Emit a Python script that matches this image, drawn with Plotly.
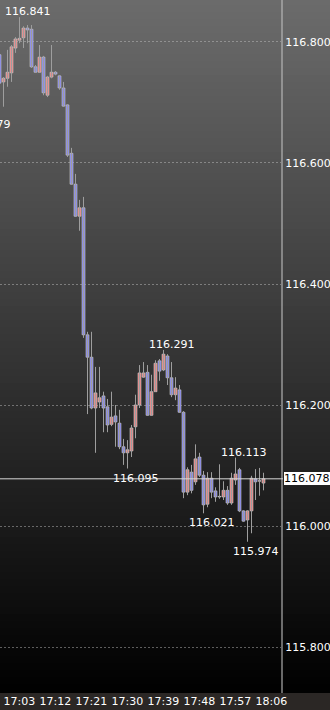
import plotly.graph_objects as go

# ---------------- data ----------------
candle_idx = list(range(0, 67))  # 1-minute candles, index 1 == 17:03
opens = [116.779, 116.734, 116.740, 116.749, 116.790, 116.803, 116.807, 116.823, 116.821, 116.759,
         116.750, 116.775, 116.712, 116.742, 116.750, 116.744, 116.724, 116.696, 116.616, 116.565,
         116.512, 116.526, 116.316, 116.279, 116.195, 116.205, 116.215, 116.197, 116.168, 116.182,
         116.170, 116.131, 116.121, 116.124, 116.164, 116.200, 116.246, 116.254, 116.183, 116.222,
         116.273, 116.258, 116.281, 116.245, 116.217, 116.225, 116.188, 116.056, 116.089, 116.073,
         116.114, 116.084, 116.036, 116.079, 116.058, 116.048, 116.048, 116.059, 116.038, 116.076,
         116.093, 116.025, 116.010, 116.025, 116.078, 116.074, 116.071]
highs = [116.787, 116.742, 116.787, 116.795, 116.808, 116.841, 116.826, 116.828, 116.828, 116.762,
         116.795, 116.777, 116.744, 116.795, 116.752, 116.745, 116.734, 116.697, 116.625, 116.582,
         116.539, 116.544, 116.321, 116.321, 116.263, 116.263, 116.222, 116.210, 116.222, 116.200,
         116.192, 116.144, 116.142, 116.167, 116.217, 116.266, 116.271, 116.266, 116.250, 116.274,
         116.276, 116.291, 116.284, 116.271, 116.246, 116.233, 116.190, 116.097, 116.101, 116.135,
         116.121, 116.091, 116.089, 116.089, 116.064, 116.102, 116.074, 116.066, 116.088, 116.113,
         116.096, 116.026, 116.026, 116.083, 116.094, 116.096, 116.088]
lows = [116.704, 116.693, 116.726, 116.734, 116.782, 116.798, 116.790, 116.798, 116.757, 116.749,
        116.749, 116.712, 116.709, 116.740, 116.745, 116.721, 116.693, 116.610, 116.564, 116.511,
        116.488, 116.311, 116.185, 116.193, 116.121, 116.195, 116.155, 116.155, 116.165, 116.131,
        116.127, 116.101, 116.095, 116.114, 116.145, 116.195, 116.245, 116.182, 116.182, 116.222,
        116.240, 116.256, 116.233, 116.213, 116.208, 116.187, 116.046, 116.051, 116.054, 116.068,
        116.081, 116.021, 116.031, 116.046, 116.040, 116.045, 116.043, 116.035, 116.035, 116.068,
        116.023, 116.007, 115.974, 115.988, 116.043, 116.050, 116.059]
closes = [116.732, 116.740, 116.750, 116.792, 116.805, 116.806, 116.823, 116.820, 116.759, 116.750,
          116.775, 116.716, 116.742, 116.750, 116.747, 116.724, 116.694, 116.613, 116.565, 116.512,
          116.526, 116.316, 116.279, 116.195, 116.220, 116.212, 116.195, 116.167, 116.180, 116.172,
          116.131, 116.121, 116.126, 116.162, 116.200, 116.253, 116.253, 116.183, 116.222, 116.269,
          116.256, 116.284, 116.245, 116.217, 116.228, 116.188, 116.056, 116.093, 116.059, 116.111,
          116.084, 116.035, 116.079, 116.056, 116.048, 116.048, 116.059, 116.038, 116.079, 116.086,
          116.025, 116.008, 116.025, 116.079, 116.073, 116.075, 116.078]

time_idx = [1, 10, 19, 28, 37, 46, 55, 64]
time_labels = ["17:03", "17:12", "17:21", "17:30", "17:39", "17:48", "17:57", "18:06"]

price_ticks = [115.8, 116.0, 116.2, 116.4, 116.6, 116.8]

# swing labels: (candle index, price, side)
swing_idx = [-5, 5, 32, 41, 51, 59, 62]
swing_price = [116.679, 116.841, 116.095, 116.291, 116.021, 116.113, 115.974]
swing_side = ["low", "high", "low", "high", "low", "high", "low"]

last_price = closes[-1]

UP_COLOR = "#ff7272"
DOWN_COLOR = "#7272ff"
WICK_COLOR = "#9e9e9e"
EDGE_COLOR = "#c8c8c8"

# ---------------- layout geometry ----------------
W, H = 330, 710
ML, MR, MT, MB = 0, 49, 0, 17
PW, PH = W - ML - MR, H - MT - MB
x_range = [0.125, 70.375]
y_range = [115.7240, 116.8694]
px_per_unit = PW / (x_range[1] - x_range[0])
unit_per_px = (y_range[1] - y_range[0]) / PH

fig = go.Figure()

# wicks
wx, wy = [], []
for i, h, l in zip(candle_idx, highs, lows):
    wx += [i, i, None]
    wy += [l, h, None]
fig.add_trace(go.Scatter(x=wx, y=wy, mode="lines", line=dict(color=WICK_COLOR, width=1),
                         hoverinfo="skip", showlegend=False))

# bodies
base = [min(o, c) for o, c in zip(opens, closes)]
size = [max(abs(c - o), 0.6 * unit_per_px) for o, c in zip(opens, closes)]
colors = [UP_COLOR if c > o else (DOWN_COLOR if c < o else "#e0e0e0")
          for o, c in zip(opens, closes)]
fig.add_trace(go.Bar(x=candle_idx, y=size, base=base, width=0.72,
                     marker=dict(color=colors, line=dict(color=EDGE_COLOR, width=0.7)),
                     hoverinfo="skip", showlegend=False))

shapes = []
# vertical gradient background (grey at top to black at bottom)
N = 99
x_right = W / PW
for k in range(N):
    v = round(108 * (1 - (k + 0.5) / N))
    shapes.append(dict(type="rect", xref="paper", yref="paper",
                       x0=0, x1=x_right, y0=1 - (k + 1) / N, y1=1 - k / N + 0.002,
                       fillcolor=f"rgb({v},{v},{v})", line=dict(width=0), layer="below"))
# bottom time strip
shapes.append(dict(type="rect", xref="paper", yref="paper", x0=0, x1=x_right,
                   y0=-MB / PH, y1=0, fillcolor="#2b2725", line=dict(width=0), layer="below"))
# current price line
shapes.append(dict(type="line", xref="paper", yref="y", x0=0, x1=1 + 2 / PW,
                   y0=last_price, y1=last_price, line=dict(color="#d8d8d8", width=1)))

annotations = []
for i, p, side in zip(swing_idx, swing_price, swing_side):
    xa = max(i, x_range[0])
    shift = 8 + (i - xa) * px_per_unit
    annotations.append(dict(
        x=xa, y=p, xref="x", yref="y", text=f"{p:.3f}", showarrow=False,
        xanchor="center", yanchor="bottom" if side == "high" else "top",
        xshift=shift, yshift=-3 if side == "high" else -1,
        font=dict(family="DejaVu Sans", size=11, color="#ffffff")))
annotations.append(dict(
    x=1 + 2 / PW, y=last_price, xref="paper", yref="y", text=f"{last_price:.3f}",
    showarrow=False, xanchor="left", yanchor="middle",
    bgcolor="#ffffff", bordercolor="#222222", borderwidth=1, borderpad=0,
    font=dict(family="DejaVu Sans", size=11, color="#000000")))

fig.update_layout(
    width=W, height=H, margin=dict(l=ML, r=MR, t=MT, b=MB, autoexpand=False),
    paper_bgcolor="#000000", plot_bgcolor="rgba(0,0,0,0)",
    font=dict(family="DejaVu Sans", size=11, color="#ffffff"),
    shapes=shapes, annotations=annotations, showlegend=False,
    barmode="overlay",
    xaxis=dict(range=x_range, showgrid=False, zeroline=False, showline=False,
               tickmode="array",
               tickvals=time_idx, ticktext=time_labels, ticks="",
               tickangle=0, automargin=False,
               ticklabelposition="outside right",
               tickfont=dict(family="DejaVu Sans", size=11, color="#ffffff")),
    yaxis=dict(range=y_range, side="right", tickmode="array", tickvals=price_ticks,
               tickformat=".3f", showgrid=True, gridcolor="rgba(200,200,200,0.45)",
               griddash="2px,2px", gridwidth=1, zeroline=False, ticks="",
               automargin=False,
               showline=True, linecolor="rgba(190,190,190,0.55)", linewidth=2,
               tickfont=dict(family="DejaVu Sans", size=11, color="#ffffff")),
)

fig.write_html("out.html")
